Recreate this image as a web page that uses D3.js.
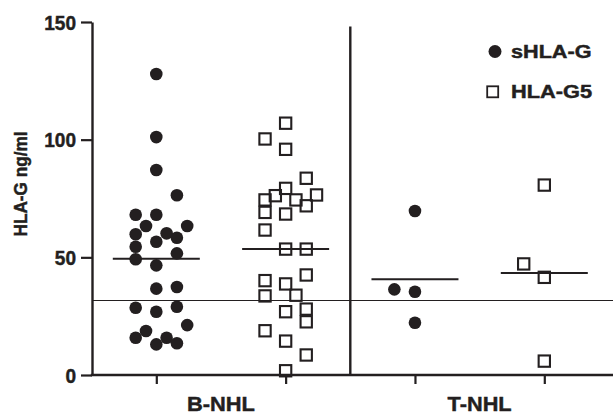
<!DOCTYPE html>
<html>
<head>
<meta charset="utf-8">
<script src="https://cdn.jsdelivr.net/npm/d3@7"></script>
<style>
  html, body { margin: 0; padding: 0; background: #fff; }
  svg { display: block; }
  text { font-family: "Liberation Sans", Arial, Helvetica, sans-serif; font-weight: bold; fill: #231f20; stroke: #231f20; stroke-width: 0.45px; }
</style>
</head>
<body>
<svg id="chart" width="613" height="416"></svg>
<script>
// ---- data ----
const groups = ["B-NHL", "T-NHL"];
const seriesNames = ["sHLA-G", "HLA-G5"];
const yTicks = [0, 50, 100, 150];

// values (ng/ml) and jitter slot (column index around the category)
const bSHLAG = [127.9, 101.1, 87.1, 76.4, 68.1, 68.1, 63.3, 63.3, 59.8, 60.2, 58.3, 56.6, 54.5, 51.7,
                49.2, 46.6, 36.7, 37.4, 28.6, 26.9, 29.0, 21.2, 18.7, 15.8, 15.8, 13.0, 13.5];
const bSHLAGSlot = [0, 0, 0, 2, -2, 0, -1, 3, -2, 1, 2, 0, -2, 2,
                    -2, 0, 0, 2, -2, 0, 2, 3, -1, -2, 1, 0, 2];
const bG5 = [107.0, 100.3, 95.9, 83.6, 79.3, 76.2, 76.5, 74.4, 74.4, 71.9, 69.1, 68.4, 61.6, 53.5,
             53.5, 42.5, 40.1, 38.7, 33.6, 33.9, 26.9, 28.0, 22.6, 18.8, 14.4, 8.5, 1.8];
const bG5Slot = [0, -2, 0, 2, 0, -1, 3, -2, 1, 2, -2, 0, -2, 0,
                 2, 2, -2, 0, -2, 1, 0, 2, 2, -2, 0, 2, 0];
const tSHLAG = [69.7, 36.4, 35.4, 22.2];
const tSHLAGSlot = [0, -2, 0, 0];
const tG5 = [80.7, 47.2, 41.5, 5.9];
const tG5Slot = [0, -2, 0, 0];

const medians = [49.4, 53.5, 40.7, 43.3]; // B sHLA-G, B G5, T sHLA-G, T G5
const referenceValue = 31.9;

// ---- build ----
const keys = [];
groups.forEach(g => seriesNames.forEach(s => keys.push(g + "|" + s)));
const sets = [
  { key: "B-NHL|sHLA-G", vals: bSHLAG, slots: bSHLAGSlot, type: "dot" },
  { key: "B-NHL|HLA-G5", vals: bG5, slots: bG5Slot, type: "square" },
  { key: "T-NHL|sHLA-G", vals: tSHLAG, slots: tSHLAGSlot, type: "dot" },
  { key: "T-NHL|HLA-G5", vals: tG5, slots: tG5Slot, type: "square" }
];

const ink = "#231f20";
const svg = d3.select("#chart");
const plotLeft = 92, plotRight = 613, plotTop = 22, plotBottom = 375;

const y = d3.scaleLinear().domain([0, 150]).range([plotBottom, plotTop]);
const x = d3.scalePoint().domain(keys).range([156.3, 544.3]);
const jitter = 10.3;
const medianHalf = 43.5;

// reference line
svg.append("line")
  .attr("x1", plotLeft).attr("x2", plotRight)
  .attr("y1", Math.round(y(referenceValue)) + 0.5).attr("y2", Math.round(y(referenceValue)) + 0.5)
  .attr("stroke", ink).attr("stroke-width", 1.2);

// divider between groups
svg.append("line")
  .attr("x1", 350.3).attr("x2", 350.3)
  .attr("y1", 26.5).attr("y2", plotBottom)
  .attr("stroke", ink).attr("stroke-width", 2.4);

// medians
svg.selectAll("line.median").data(keys).enter().append("line")
  .attr("class", "median")
  .attr("x1", d => x(d) - medianHalf).attr("x2", d => x(d) + medianHalf)
  .attr("y1", (d, i) => y(medians[i])).attr("y2", (d, i) => y(medians[i]))
  .attr("stroke", ink).attr("stroke-width", 2);

// points
sets.forEach(s => {
  const pts = s.vals.map((v, i) => ({ v, slot: s.slots[i] }));
  const g = svg.append("g");
  if (s.type === "dot") {
    g.selectAll("circle").data(pts).enter().append("circle")
      .attr("cx", d => x(s.key) + d.slot * jitter)
      .attr("cy", d => y(d.v))
      .attr("r", 6.3)
      .attr("fill", ink);
  } else {
    const side = 11.3;
    g.selectAll("rect").data(pts).enter().append("rect")
      .attr("x", d => x(s.key) + d.slot * jitter - side / 2)
      .attr("y", d => y(d.v) - side / 2)
      .attr("width", side).attr("height", side)
      .attr("fill", "none")
      .attr("stroke", ink).attr("stroke-width", 2.1);
  }
});

// y axis
const yAxis = svg.append("g")
  .attr("transform", `translate(${plotLeft},0)`)
  .call(d3.axisLeft(y).tickValues(yTicks).tickSize(11).tickSizeOuter(0).tickPadding(5));
yAxis.select(".domain").attr("stroke", ink).attr("stroke-width", 2.4);
yAxis.selectAll(".tick line").attr("stroke", ink).attr("stroke-width", 2.2);
yAxis.selectAll(".tick text")
  .attr("font-size", 20).attr("font-family", "Liberation Sans, Arial, sans-serif")
  .attr("font-weight", "bold").attr("fill", ink).attr("dy", "0.36em")
  .attr("textLength", d => String(d).length * 10.6).attr("lengthAdjust", "spacingAndGlyphs");

// x axis
const xAxis = svg.append("g")
  .attr("transform", `translate(0,${plotBottom})`)
  .call(d3.axisBottom(x).tickSize(9).tickSizeOuter(0).tickFormat(""));
xAxis.select(".domain").remove();
xAxis.selectAll(".tick line").attr("stroke", ink).attr("stroke-width", 2.2);
svg.append("line")
  .attr("x1", plotLeft - 1.2).attr("x2", plotRight)
  .attr("y1", plotBottom).attr("y2", plotBottom)
  .attr("stroke", ink).attr("stroke-width", 2.4);

// group labels
groups.forEach(gname => {
  const cx = (x(gname + "|" + seriesNames[0]) + x(gname + "|" + seriesNames[1])) / 2;
  svg.append("text")
    .attr("x", cx).attr("y", 411)
    .attr("text-anchor", "middle")
    .attr("font-size", 21)
    .attr("textLength", gname === "B-NHL" ? 68 : 64).attr("lengthAdjust", "spacingAndGlyphs")
    .text(gname);
});

// y axis title
svg.append("text")
  .attr("transform", "translate(27,184) rotate(-90)")
  .attr("text-anchor", "middle")
  .attr("font-size", 18.5)
  .attr("textLength", 105).attr("lengthAdjust", "spacingAndGlyphs")
  .text("HLA-G ng/ml");

// legend
const legend = svg.append("g");
legend.append("circle").attr("cx", 495).attr("cy", 51.5).attr("r", 6.5).attr("fill", ink);
legend.append("text").attr("x", 511).attr("y", 57.7).attr("font-size", 18)
  .attr("textLength", 80.5).attr("lengthAdjust", "spacingAndGlyphs").text(seriesNames[0]);
legend.append("rect").attr("x", 487.2).attr("y", 86.3).attr("width", 11).attr("height", 11)
  .attr("fill", "none").attr("stroke", ink).attr("stroke-width", 1.8);
legend.append("text").attr("x", 511).attr("y", 98.2).attr("font-size", 18)
  .attr("textLength", 81).attr("lengthAdjust", "spacingAndGlyphs").text(seriesNames[1]);
</script>
</body>
</html>
